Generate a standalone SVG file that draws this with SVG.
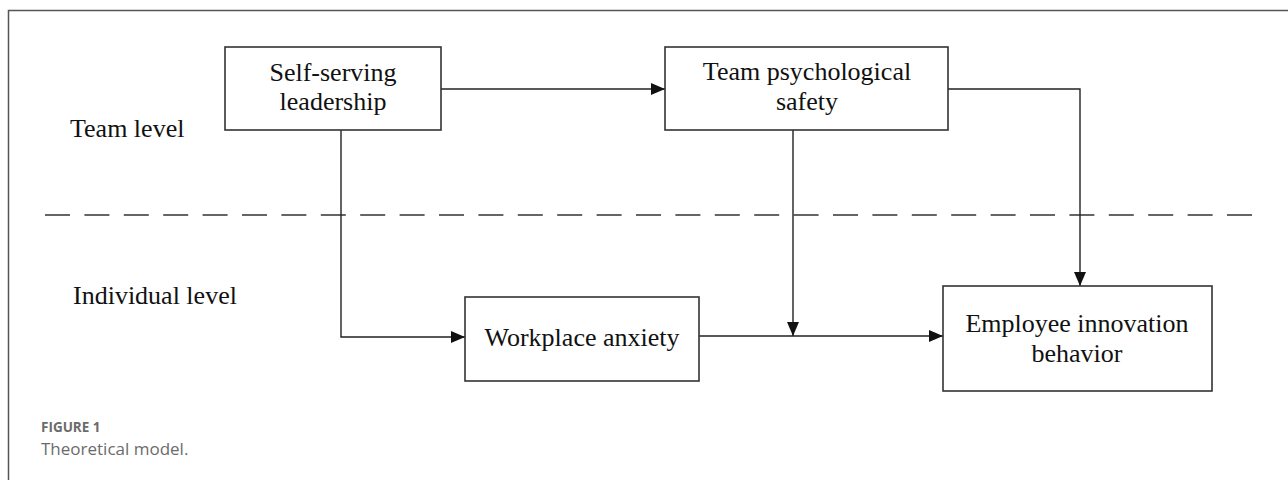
<svg xmlns="http://www.w3.org/2000/svg" width="1288" height="480" viewBox="0 0 1288 480">
  <style>
    .box { fill: #ffffff; stroke: #333333; stroke-width: 1.6; }
    .lbl { font-family: "Liberation Serif", "Times New Roman", serif; font-size: 26px; fill: #111111; text-anchor: middle; }
    .lvl { font-family: "Liberation Serif", "Times New Roman", serif; font-size: 26px; fill: #111111; }
    .conn { fill: none; stroke: #222222; stroke-width: 1.4; }
    .dash { fill: none; stroke: #333333; stroke-width: 1.6; stroke-dasharray: 25 14.4; }
    .cap1 { font-family: "Open Sans", "Noto Sans", sans-serif; font-size: 13.5px; font-weight: bold; fill: #6b6b6b; }
    .cap2 { font-family: "Open Sans", "Noto Sans", sans-serif; font-size: 17px; fill: #6b6b6b; }
  </style>
  <defs>
    <marker id="arr" viewBox="0 0 14 12" refX="14" refY="6" markerWidth="14" markerHeight="12" orient="auto" markerUnits="userSpaceOnUse">
      <path d="M0,0 L14,6 L0,12 Z" fill="#111111"/>
    </marker>
  </defs>
  <rect x="0" y="0" width="1288" height="480" fill="#ffffff"/>
  <rect x="8.5" y="10.5" width="1300" height="500" fill="none" stroke="#555555" stroke-width="1.5"/>

  <text class="lvl" x="70" y="137">Team level</text>
  <text class="lvl" x="73" y="304">Individual level</text>

  <line class="dash" x1="45" y1="215" x2="1252" y2="215"/>

  <g id="connectors">
    <line class="conn" x1="441" y1="89" x2="665" y2="89" marker-end="url(#arr)"/>
    <polyline class="conn" points="341,130 341,337 465,337" marker-end="url(#arr)"/>
    <line class="conn" x1="793" y1="130" x2="793" y2="336" marker-end="url(#arr)"/>
    <line class="conn" x1="699" y1="336" x2="943" y2="336" marker-end="url(#arr)"/>
    <polyline class="conn" points="948,89 1080,89 1080,286" marker-end="url(#arr)"/>
  </g>

  <g id="self-serving-leadership">
    <rect class="box" x="225" y="47" width="216" height="83"/>
    <text class="lbl" x="333" y="81">Self-serving</text>
    <text class="lbl" x="333" y="110">leadership</text>
  </g>
  <g id="team-psychological-safety">
    <rect class="box" x="665" y="47" width="283" height="83"/>
    <text class="lbl" x="807" y="80">Team psychological</text>
    <text class="lbl" x="807" y="110">safety</text>
  </g>
  <g id="workplace-anxiety">
    <rect class="box" x="465" y="297" width="234" height="84"/>
    <text class="lbl" x="582" y="346">Workplace anxiety</text>
  </g>
  <g id="employee-innovation-behavior">
    <rect class="box" x="943" y="286" width="269" height="105"/>
    <text class="lbl" x="1077" y="332">Employee innovation</text>
    <text class="lbl" x="1077" y="362">behavior</text>
  </g>

  <text class="cap1" x="41" y="432">FIGURE 1</text>
  <text class="cap2" x="41" y="455">Theoretical model.</text>
</svg>
